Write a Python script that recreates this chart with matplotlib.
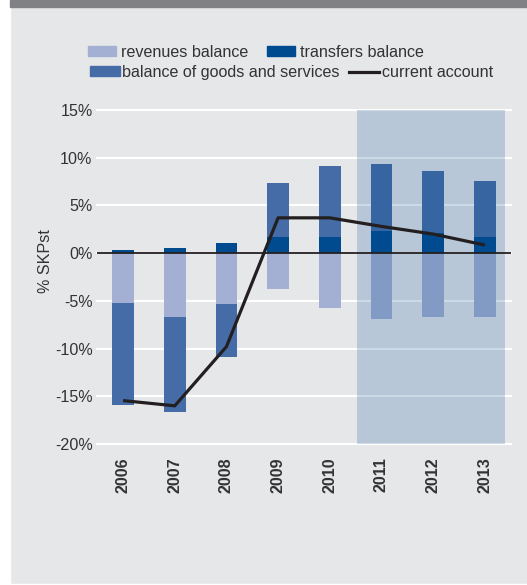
import matplotlib
matplotlib.use("Agg")
import matplotlib.pyplot as plt
import numpy as np
from matplotlib.patches import Rectangle, Patch
from matplotlib.lines import Line2D

# ---- data ----
years = ["2006", "2007", "2008", "2009", "2010", "2011", "2012", "2013"]
revenues_balance = [-5.2, -6.7, -5.3, -3.75, -5.75, -6.9, -6.65, -6.65]
transfers_balance = [0.35, 0.55, 1.1, 1.65, 1.7, 2.35, 2.15, 1.65]
goods_services_balance = [-10.7, -9.95, -5.55, 5.7, 7.45, 7.0, 6.5, 5.95]
current_account = [-15.45, -16.0, -9.8, 3.7, 3.7, 2.8, 2.0, 0.85]
forecast_years = ["2011", "2012", "2013"]
y_ticks = [-20, -15, -10, -5, 0, 5, 10, 15]

# ---- style ----
BG = "#e6e7e9"
C_REV = "#a3b0d3"
C_GOODS = "#456ca6"
C_TRANS = "#004a8f"
C_LINE = "#231f20"
C_TEXT = "#333333"
FS = 11.6
plt.rcParams["font.family"] = ["Liberation Sans", "DejaVu Sans"]

W, H = 527, 585
fig = plt.figure(figsize=(W / 100, H / 100), dpi=100, facecolor=BG)

# frame decorations: white strip at left/bottom, grey bar on top
fig.patches.append(Rectangle((0, 0), 10 / W, 1, transform=fig.transFigure,
                             color="white", zorder=-1))
fig.patches.append(Rectangle((0, 0), 1, 1 / H, transform=fig.transFigure,
                             color="white", zorder=-1))
fig.patches.append(Rectangle((10 / W, 1 - 7 / H), 1, 7 / H, transform=fig.transFigure,
                             color="#808184", zorder=-1))

left, right = 96.7 / W, 510.7 / W
top, bottom = 1 - 110 / H, 1 - 444 / H
ax = fig.add_axes([left, bottom, right - left, top - bottom])
ax.set_facecolor(BG)

x = np.arange(len(years))
rev = np.array(revenues_balance)
tr = np.array(transfers_balance)
gs = np.array(goods_services_balance)
bw = 0.42

ax.bar(x, rev, bw, color=C_REV, zorder=2)
ax.bar(x, tr, bw, color=C_TRANS, zorder=2)
ax.bar(x, gs, bw, bottom=np.where(gs > 0, tr, rev), color=C_GOODS, zorder=2)

# forecast shading
fx = [years.index(y) for y in forecast_years]
ax.axvspan(min(fx) - 0.47, max(fx) + 0.39, color=C_TRANS, alpha=0.2, lw=0, zorder=3)

ax.axhline(0, color=C_LINE, lw=1.3, zorder=4)
ax.plot(x, current_account, color=C_LINE, lw=2.3, zorder=5, solid_capstyle="butt")

ax.set_xlim(-0.51, len(years) - 0.5)
ax.set_ylim(-20, 15)
ax.set_yticks(y_ticks)
ax.set_yticklabels([f"{t}%" for t in y_ticks])
ax.set_xticks(x)
ax.set_xticklabels(years, rotation=90, fontweight="bold")
ax.yaxis.grid(True, color="white", lw=1.5)
ax.set_axisbelow(True)
for gl in ax.get_ygridlines():
    gl.set_clip_on(False)
for s in ax.spines.values():
    s.set_visible(False)
ax.tick_params(axis="y", length=0, pad=3, labelsize=FS, labelcolor=C_TEXT)
ax.tick_params(axis="x", length=0, pad=9.5, labelsize=FS, labelcolor=C_TEXT)

fig.text(46 / W, 1 - 261 / H, "% SKPst", rotation=90, ha="center", va="center",
         fontsize=FS, color=C_TEXT)

# legend (two rows)
h_rev = Patch(color=C_REV)
h_tr = Patch(color=C_TRANS)
h_gs = Patch(color=C_GOODS)
h_ca = Line2D([], [], color=C_LINE, lw=2.3)
common = dict(frameon=False, borderpad=0, borderaxespad=0, handleheight=0.55,
              fontsize=FS, labelcolor=C_TEXT, loc="center left",
              bbox_transform=fig.transFigure, ncol=2)
leg1 = fig.legend([h_rev, h_tr], ["revenues balance", "transfers balance"],
                  bbox_to_anchor=(88 / W, 1 - 52.5 / H), handlelength=1.73,
                  handletextpad=0.31, columnspacing=1.2, **common)
leg2 = fig.legend([h_gs, h_ca], ["balance of goods and services", "current account"],
                  bbox_to_anchor=(90 / W, 1 - 72.5 / H), handlelength=1.85,
                  handletextpad=0.15, columnspacing=0.6, **common)

fig.savefig("out.png", dpi=100, facecolor=BG)
